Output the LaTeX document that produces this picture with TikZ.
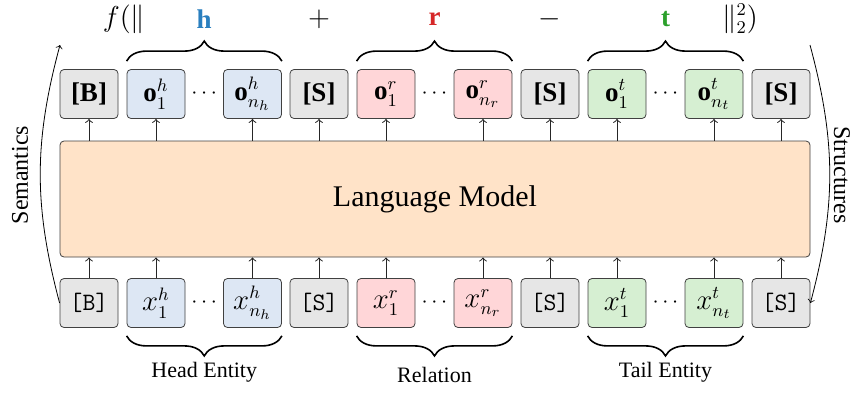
\documentclass[tikz,border=0pt]{standalone}
\usepackage{fontspec}
\setmainfont{Liberation Serif}
\usetikzlibrary{decorations.pathreplacing}

\definecolor{tokgrey}{HTML}{E6E6E6}
\definecolor{tokblue}{HTML}{DDE7F4}
\definecolor{tokred}{HTML}{FFD6D8}
\definecolor{tokgreen}{HTML}{D6EFD2}
\definecolor{lmfill}{HTML}{FFE3C8}
\definecolor{hcol}{HTML}{2A7FBF}
\definecolor{rcol}{HTML}{D62728}
\definecolor{tcol}{HTML}{2CA02C}

\tikzset{
  tok/.style={draw=black!75, rounded corners=2pt, minimum width=29pt, minimum height=24.5pt, inner sep=0pt, font=\fontsize{13.5}{15}\selectfont},
  greytok/.style={tok, fill=tokgrey},
  bluetok/.style={tok, fill=tokblue},
  redtok/.style={tok, fill=tokred},
  greentok/.style={tok, fill=tokgreen},
  up/.style={->, black!85, line width=0.5pt},
  brc/.style={decorate, decoration={brace, amplitude=10pt, raise=4pt}, line width=0.8pt},
  lbl/.style={font=\fontsize{11}{13}\selectfont},
  fml/.style={font=\fontsize{13.5}{15}\selectfont, inner sep=0.5pt},
  side/.style={font=\large, inner sep=1pt},
}

\begin{document}
\begin{tikzpicture}[x=0.5pt, y=-0.5pt]
    \useasboundingbox (0,0) rectangle (852,392);

    % output tokens
    \node[greytok] (b1) at (89,94) {\textbf{[B]}};
    \node[bluetok] (oh1) at (156,94) {$\mathbf{o}_1^h$};
    \node[bluetok] (ohn) at (252.5,94) {$\mathbf{o}_{n_h}^h$};
    \node[greytok] (s1) at (319,94) {\textbf{[S]}};
    \node[redtok] (or1) at (386,94) {$\mathbf{o}_1^r$};
    \node[redtok] (orn) at (483,94) {$\mathbf{o}_{n_r}^r$};
    \node[greytok] (s2) at (550,94) {\textbf{[S]}};
    \node[greentok] (ot1) at (617,94) {$\mathbf{o}_1^t$};
    \node[greentok] (otn) at (714,94) {$\mathbf{o}_{n_t}^t$};
    \node[greytok] (s3) at (781,94) {\textbf{[S]}};

    \node[lbl] (dh) at (204.25,94) {$\cdots$};
    \node[lbl] (dr) at (434.5,94) {$\cdots$};
    \node[lbl] (dt) at (665.5,94) {$\cdots$};

    % language model
    \node[draw=black!75, fill=lmfill, rounded corners=2pt, minimum width=375pt, minimum height=58pt, font=\fontsize{15}{18}\selectfont] (lm) at (435,199) {Language Model};

    % input tokens
    \node[greytok] (xb) at (89,303) {\fontsize{12.5}{14}\selectfont\texttt{[B]}};
    \node[bluetok] (xh1) at (156,303) {$x_1^h$};
    \node[bluetok] (xhn) at (252.5,303) {$x_{n_h}^h$};
    \node[greytok] (xs1) at (319,303) {\fontsize{12.5}{14}\selectfont\texttt{[S]}};
    \node[redtok] (xr1) at (386,303) {$x_1^r$};
    \node[redtok] (xrn) at (483,303) {$x_{n_r}^r$};
    \node[greytok] (xs2) at (550,303) {\fontsize{12.5}{14}\selectfont\texttt{[S]}};
    \node[greentok] (xt1) at (617,303) {$x_1^t$};
    \node[greentok] (xtn) at (714,303) {$x_{n_t}^t$};
    \node[greytok] (xs3) at (781,303) {\fontsize{12.5}{14}\selectfont\texttt{[S]}};

    \node[lbl] (xdh) at (204.25,303) {$\cdots$};
    \node[lbl] (xdr) at (434.5,303) {$\cdots$};
    \node[lbl] (xdt) at (665.5,303) {$\cdots$};

    % arrows into and out of the model
    \draw[up] (lm.north -| b1) -- (b1); \draw[up] (lm.north -| oh1) -- (oh1); \draw[up] (lm.north -| ohn) -- (ohn); \draw[up] (lm.north -| s1) -- (s1); \draw[up] (lm.north -| or1) -- (or1);
    \draw[up] (lm.north -| orn) -- (orn); \draw[up] (lm.north -| s2) -- (s2); \draw[up] (lm.north -| ot1) -- (ot1); \draw[up] (lm.north -| otn) -- (otn); \draw[up] (lm.north -| s3) -- (s3);
    \draw[up] (xb) -- (xb |- lm.south); \draw[up] (xh1) -- (xh1 |- lm.south); \draw[up] (xhn) -- (xhn |- lm.south); \draw[up] (xs1) -- (xs1 |- lm.south); \draw[up] (xr1) -- (xr1 |- lm.south);
    \draw[up] (xrn) -- (xrn |- lm.south); \draw[up] (xs2) -- (xs2 |- lm.south); \draw[up] (xt1) -- (xt1 |- lm.south); \draw[up] (xtn) -- (xtn |- lm.south); \draw[up] (xs3) -- (xs3 |- lm.south);

    % braces
    \draw[brc] (oh1.north west) -- (ohn.north east);
    \draw[brc] (or1.north west) -- (orn.north east);
    \draw[brc] (ot1.north west) -- (otn.north east);
    \draw[brc] (xhn.south east) -- (xh1.south west);
    \draw[brc] (xrn.south east) -- (xr1.south west);
    \draw[brc] (xtn.south east) -- (xt1.south west);

    % score function
    \node[fml] (fopen) at (124,19) {$f(\|$};
    \node[fml] (h) at (204.25,19) {$\textcolor{hcol}{\mathbf{h}}$};
    \node[fml] (plus) at (319,19) {$+$};
    \node[fml] (r) at (434.5,19) {$\textcolor{rcol}{\mathbf{r}}$};
    \node[fml] (minus) at (550,19) {$-$};
    \node[fml] (t) at (665.5,19) {$\textcolor{tcol}{\mathbf{t}}$};
    \node[fml] (fclose) at (740,19) {$\|_2^2)$};

    \node[lbl] (head) at (204.25,372) {Head Entity};
    \node[lbl] (rel) at (434.5,375) {Relation};
    \node[lbl] (tail) at (665.5,372) {Tail Entity};

    % semantics / structures
    \coordinate (semtop) at (60,45);
    \coordinate (strtop) at (810,45);
    \draw[->] (xb.west) to[bend left=15] (semtop);
    \draw[->] (strtop) to[bend left=15] (xs3.east);
    \node[side, rotate=90] (sem) at (20,175) {Semantics};
    \node[side, rotate=-90] (str) at (842,175) {Structures};
\end{tikzpicture}
\end{document}
